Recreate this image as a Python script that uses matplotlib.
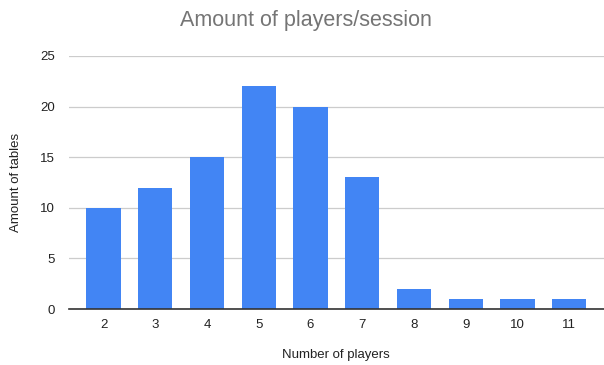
import matplotlib
matplotlib.use("Agg")
import matplotlib.pyplot as plt

plt.rcParams['font.family'] = ['Liberation Sans', 'DejaVu Sans']

players = [2, 3, 4, 5, 6, 7, 8, 9, 10, 11]
tables = [10, 12, 15, 22, 20, 13, 2, 1, 1, 1]
yticks = [0, 5, 10, 15, 20, 25]

fig = plt.figure(figsize=(6.04, 3.65), dpi=100)
ax = fig.add_axes([0.114, 0.153, 0.886, 0.694])

x = list(range(len(players)))
ax.bar(x, tables, width=0.66, color='#4285F4', zorder=3)

ax.set_xlim(-0.67, len(players) - 1 + 0.67)
ax.set_ylim(0, 25)
ax.set_yticks(yticks)
ax.set_xticks(x)
ax.set_xticklabels([str(p) for p in players])
ax.grid(axis='y', color='#cccccc', linewidth=0.9, zorder=0)
for s in ['top', 'right', 'left']:
    ax.spines[s].set_visible(False)
ax.spines['bottom'].set_color('#333333')
ax.spines['bottom'].set_linewidth(1.2)
ax.spines['bottom'].set_zorder(4)
ax.tick_params(axis='both', length=0, labelsize=9.5, colors='#222222')
ax.tick_params(axis='x', pad=7)
ax.tick_params(axis='y', pad=10)

fig.text(0.507, 0.943, 'Amount of players/session', ha='center', va='center',
         fontsize=15.5, color='#757575')
fig.text(0.556, 0.027, 'Number of players', ha='center', va='center',
         fontsize=9.5, color='#222222')
fig.text(0.027, 0.5, 'Amount of tables', ha='center', va='center',
         rotation=90, fontsize=9.5, color='#222222')

fig.savefig('out.png', dpi=100)
